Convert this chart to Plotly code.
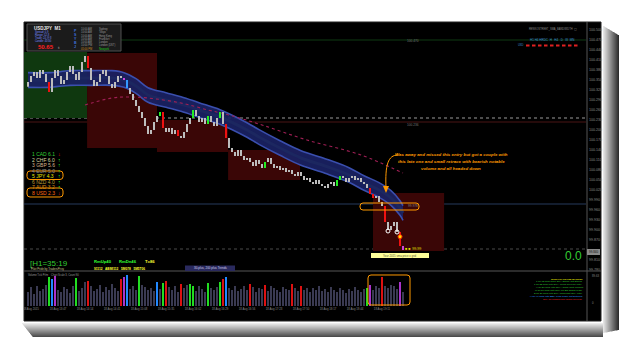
import plotly.graph_objects as go

W, H = 625, 340

# ---------------- data ----------------
first_open = 100.330
close = [
    100.344, 100.362, 100.374, 100.356, 100.380, 100.368, 100.344, 100.314, 100.356, 100.380,
    100.362, 100.338, 100.350, 100.374, 100.392, 100.368, 100.350, 100.374, 100.404, 100.422,
    100.386, 100.350, 100.332, 100.344, 100.368, 100.380, 100.362, 100.338, 100.326, 100.344,
    100.362, 100.356, 100.350, 100.326, 100.308, 100.290, 100.272, 100.254, 100.236, 100.212,
    100.188, 100.200, 100.224, 100.242, 100.254, 100.206, 100.194, 100.206, 100.188, 100.200,
    100.182, 100.176, 100.194, 100.218, 100.236, 100.260, 100.242, 100.224, 100.236, 100.218,
    100.242, 100.224, 100.212, 100.236, 100.254, 100.218, 100.176, 100.146, 100.134, 100.122,
    100.140, 100.122, 100.110, 100.116, 100.104, 100.092, 100.110, 100.098, 100.086, 100.104,
    100.116, 100.098, 100.086, 100.092, 100.080, 100.086, 100.074, 100.080, 100.068, 100.062,
    100.074, 100.062, 100.050, 100.056, 100.044, 100.038, 100.050, 100.038, 100.032, 100.026,
    100.038, 100.044, 100.032, 100.050, 100.062, 100.056, 100.044, 100.056, 100.062, 100.050,
    100.056, 100.044, 100.038, 100.026, 100.008, 99.996, 100.002, 99.984, 99.972, 99.924,
    99.900, 99.912, 99.924, 99.894, 99.852, 99.840,
]
candle_special = {7: 'r', 20: 'r', 32: 'm', 33: 'b', 44: 'g', 45: 'r', 50: 'r', 55: 'g',
                  60: 'g', 64: 'g', 66: 'r', 79: 'g', 103: 'g', 104: 'g', 114: 'r',
                  115: 'r', 119: 'r', 124: 'r', 125: 'm'}

volume = [
    40, 55, 35, 60, 45, 50, 62, 85, 80, 88,
    48, 42, 55, 50, 38, 60, 82, 45, 52, 70,
    75, 58, 44, 50, 62, 40, 55, 48, 66, 52,
    45, 80, 85, 90, 50, 58, 46, 88, 62, 55,
    48, 52, 44, 70, 50, 68, 74, 56, 48, 60,
    42, 66, 54, 62, 64, 58, 45, 60, 50, 42,
    68, 52, 48, 55, 72, 80, 86, 52, 46, 58,
    44, 50, 60, 48, 66, 56, 42, 54, 50, 62,
    44, 58, 52, 46, 40, 56, 50, 48, 64, 52,
    44, 60, 48, 54, 40, 52, 46, 58, 44, 50,
    42, 56, 48, 40, 52, 46, 38, 50, 44, 56,
    48, 42, 50, 54, 62, 48, 58, 52, 84, 60,
    54, 62, 58, 50, 70, 40,
]
volume_special = {7: 'g', 8: 'b', 9: 'm', 16: 'g', 20: 'r', 31: 'r', 32: 'm', 33: 'b',
                  37: 'g', 43: 'b', 45: 'g', 46: 'r', 51: 'r', 54: 'g', 55: 'g', 60: 'g',
                  64: 'g', 65: 'r', 66: 'b', 74: 'r', 79: 'r', 88: 'r', 91: 'r',
                  113: 'g', 114: 'm', 118: 'r', 124: 'm'}

# moving-average ribbon (centre) and slow SMA
ribbon_idx = [0, 7, 14, 21, 28, 32, 36, 40, 46, 51, 57, 64, 73, 77, 84, 91, 99, 107, 112, 117, 121, 124, 125]
ribbon_mid = [100.350, 100.350, 100.356, 100.356, 100.356, 100.350, 100.332, 100.305, 100.290,
              100.278, 100.260, 100.239, 100.200, 100.179, 100.146, 100.116, 100.092, 100.065,
              100.041, 100.020, 99.996, 99.966, 99.951]
sma_idx = [19, 28, 34, 40, 51, 60, 67, 78, 93, 111, 125]
sma_val = [100.275, 100.296, 100.299, 100.296, 100.281, 100.260, 100.245, 100.215, 100.170, 100.125, 100.071]

# session boxes: start idx, end idx, high, low, kind
box_start = [-1.33, 19.7, 43.0, 66.7, 115.0]
box_end = [19.7, 43.0, 66.7, 90.7, 138.7]
box_high = [100.434, 100.431, 100.230, 100.140, 100.011]
box_low = [100.236, 100.146, 100.134, 100.050, 99.837]
box_kind = ['g', 'r', 'r', 'r', 'r']

# horizontal levels
lvl_dotted_white = 100.236
lvl_dark_red = 100.224
lvl_green_top = 100.470
lvl_blue = 99.978
lvl_grey_dotted = 99.843

price_ticks = [99.78, 99.81, 99.87, 99.90, 99.93, 99.96, 99.99, 100.02, 100.05, 100.08,
               100.11, 100.14, 100.17, 100.20, 100.23, 100.26, 100.29, 100.32, 100.35, 100.38,
               100.41, 100.44, 100.47, 100.50]
time_idx = [1, 10, 19, 28, 37, 46, 55, 64, 73, 82, 91, 100, 109, 118]
time_labels = ["18 Aug 2015", "18 Aug 13:47", "18 Aug 14:14", "18 Aug 14:41", "18 Aug 15:08",
               "18 Aug 15:35", "18 Aug 16:02", "18 Aug 16:29", "18 Aug 16:56", "18 Aug 17:23",
               "18 Aug 17:50", "18 Aug 18:17", "18 Aug 18:44", "18 Aug 19:11"]

currency_rows = ["1 CAD 6.1", "2 CHF 6.0", "3 GBP 5.6", "4 EUR 5.0", "5 JPY 4.3", "6 NZD 4.0", "7 AUD 3.2", "8 USD 2.3"]
currency_arrow = ["↓", "↑", "↑", "↑", "↑", "↑", "↑", "↓"]

# ---------------- styling ----------------
FONT = "Liberation Sans"
C_CANDLE = {'w': '#bdbdbd', 'g': '#22ee22', 'r': '#ee1111', 'b': '#3399ff', 'm': '#cc44dd'}
C_VOL = {'w': '#3a3a52', 'g': '#22dd22', 'r': '#dd1111', 'b': '#2288ff', 'm': '#aa33cc'}
C_BOX = {'g': '#0f380f', 'r': '#3a0606'}


def pxx(x):
    return x / W


def pyy(y):
    return 1 - y / H


def ppath(points, closed=False):
    s = "M " + " L ".join(f"{pxx(x):.5f},{pyy(y):.5f}" for x, y in points)
    return s + (" Z" if closed else "")


def rrect(x0, y0, x1, y1, r):
    P = lambda x, y: f"{pxx(x):.5f},{pyy(y):.5f}"
    return (f"M {P(x0 + r, y0)} L {P(x1 - r, y0)} Q {P(x1, y0)} {P(x1, y0 + r)} "
            f"L {P(x1, y1 - r)} Q {P(x1, y1)} {P(x1 - r, y1)} L {P(x0 + r, y1)} "
            f"Q {P(x0, y1)} {P(x0, y1 - r)} L {P(x0, y0 + r)} Q {P(x0, y0)} {P(x0 + r, y0)} Z")


N = len(close)
idx = list(range(N))
opens = [first_open] + close[:-1]
vol_col = [C_VOL[volume_special.get(i, 'w')] for i in idx]

RW = 0.022
rib_up = [m + RW for m in ribbon_mid]
rib_lo = [m - RW for m in ribbon_mid]

fig = go.Figure()

# volume
fig.add_trace(go.Bar(x=idx, y=volume, marker=dict(color=vol_col, line=dict(width=0)), width=0.7,
                     xaxis='x2', yaxis='y2', hoverinfo='skip'))
# ribbon
fig.add_trace(go.Scatter(x=ribbon_idx, y=rib_lo, mode='lines', line=dict(color='#3a4fae', width=1.6, shape='spline'),
                         xaxis='x', yaxis='y', hoverinfo='skip'))
fig.add_trace(go.Scatter(x=ribbon_idx, y=rib_up, mode='lines', line=dict(color='#3a4fae', width=1.6, shape='spline'),
                         fill='tonexty', fillcolor='rgba(26,34,100,0.92)', xaxis='x', yaxis='y', hoverinfo='skip'))
fig.add_trace(go.Scatter(x=ribbon_idx, y=ribbon_mid, mode='lines', line=dict(color='#1c2760', width=3, shape='spline'),
                         xaxis='x', yaxis='y', hoverinfo='skip'))
# slow SMA
fig.add_trace(go.Scatter(x=sma_idx, y=sma_val, mode='lines', line=dict(color='#a01f55', width=1.1, dash='dot', shape='spline'),
                         xaxis='x', yaxis='y', hoverinfo='skip'))
# candle bodies (open -> close), grouped by colour
for kind, col in C_CANDLE.items():
    xs, ys = [], []
    for i in idx:
        if candle_special.get(i, 'w') == kind:
            xs += [i, i, None]
            ys += [opens[i], close[i], None]
    if xs:
        fig.add_trace(go.Scatter(x=xs, y=ys, mode='lines', line=dict(color=col, width=2),
                                 xaxis='x', yaxis='y', hoverinfo='skip', connectgaps=False))
# circles on the last candles
fig.add_trace(go.Scatter(x=[120, 123], y=[99.897, 99.894], mode='markers',
                         marker=dict(size=4, color='rgba(0,0,0,0)', line=dict(color='white', width=1)),
                         xaxis='x', yaxis='y', hoverinfo='skip'))
fig.add_trace(go.Scatter(x=[124], y=[99.880], mode='markers',
                         marker=dict(size=4, color='#ffdd00', line=dict(color='#ff3300', width=1)),
                         xaxis='x', yaxis='y', hoverinfo='skip'))

shapes = []
# shadows
for k in range(16):
    a = 0.10 + 0.72 * k / 15
    shapes.append(dict(type='rect', xref='paper', yref='paper', x0=pxx(603 + k), x1=pxx(604 + k),
                       y0=pyy(333 - k * 0.2), y1=pyy(26 + k * 0.6), fillcolor=f'rgba(0,0,0,{a:.3f})',
                       line=dict(width=0), layer='below'))
for k in range(14):
    a = 0.08 + 0.62 * k / 13
    shapes.append(dict(type='rect', xref='paper', yref='paper', x0=pxx(22 + k * 0.8), x1=pxx(603),
                       y0=pyy(324 + k), y1=pyy(323 + k), fillcolor=f'rgba(0,0,0,{a:.3f})',
                       line=dict(width=0), layer='below'))
# chart black area
shapes.append(dict(type='rect', xref='paper', yref='paper', x0=pxx(24), x1=pxx(601), y0=pyy(321), y1=pyy(22),
                   fillcolor='black', line=dict(color='#222', width=1), layer='below'))
# session boxes
for s, e, hi, lo, k in zip(box_start, box_end, box_high, box_low, box_kind):
    shapes.append(dict(type='rect', xref='x', yref='y', x0=s, x1=e, y0=lo, y1=hi,
                       fillcolor=C_BOX[k], line=dict(width=0), layer='below'))
# levels
for lv, col, dash, wd in [(lvl_green_top, '#0f3a12', 'solid', 1), (lvl_dark_red, '#4a1414', 'solid', 1),
                          (lvl_dotted_white, '#9a9a9a', 'dot', 1), (lvl_blue, '#263a5c', 'solid', 1),
                          (lvl_grey_dotted, '#4a4a4a', 'dot', 1)]:
    shapes.append(dict(type='line', xref='paper', yref='y', x0=pxx(24), x1=pxx(586), y0=lv, y1=lv,
                       line=dict(color=col, width=wd, dash=dash), layer='below'))
# panel separators / axis line
shapes.append(dict(type='line', xref='paper', yref='paper', x0=pxx(24), x1=pxx(601), y0=pyy(271), y1=pyy(271),
                   line=dict(color='#3a3a3a', width=1.5)))
shapes.append(dict(type='line', xref='paper', yref='paper', x0=pxx(587), x1=pxx(587), y0=pyy(321), y1=pyy(22),
                   line=dict(color='#555', width=1)))
# info panel
shapes.append(dict(type='rect', xref='paper', yref='paper', x0=pxx(27), x1=pxx(121), y0=pyy(51), y1=pyy(24),
                   fillcolor='#1b1b1b', line=dict(color='#505050', width=1)))
# orange rounded boxes
for (x0, y0, x1, y1) in [(27, 171, 63, 179.5), (27, 188, 63, 197), (360, 203, 419, 210), (368, 275, 410, 305)]:
    shapes.append(dict(type='path', xref='paper', yref='paper', path=rrect(x0, y0, x1, y1, 3),
                       line=dict(color='#ff9900', width=1)))
# yellow label
shapes.append(dict(type='rect', xref='paper', yref='paper', x0=pxx(371), x1=pxx(429), y0=pyy(258), y1=pyy(253),
                   fillcolor='#ffff99', line=dict(width=0)))
# blue "trends" box
shapes.append(dict(type='rect', xref='paper', yref='paper', x0=pxx(185), x1=pxx(235), y0=pyy(271), y1=pyy(265.5),
                   fillcolor='#2a2a5e', line=dict(width=0)))
# current price marker on axis
shapes.append(dict(type='rect', xref='paper', yref='paper', x0=pxx(587), x1=pxx(600), y0=pyy(255), y1=pyy(249),
                   fillcolor='#8a8a8a', line=dict(width=0)))
# red dashes top right
for j in range(9):
    x0 = 526 + j * 6
    shapes.append(dict(type='line', xref='paper', yref='paper', x0=pxx(x0), x1=pxx(x0 + 3.5), y0=pyy(45.5), y1=pyy(45.5),
                       line=dict(color='#e02020', width=2)))
# orange arrow
shapes.append(dict(type='path', xref='paper', yref='paper',
                   path=f"M {pxx(398):.5f},{pyy(155):.5f} C {pxx(388):.5f},{pyy(155):.5f} {pxx(385):.5f},{pyy(165):.5f} {pxx(386):.5f},{pyy(188):.5f}",
                   line=dict(color='#ff9900', width=1)))
shapes.append(dict(type='path', xref='paper', yref='paper', path=ppath([(383, 186), (389, 186), (386, 193)], True),
                   fillcolor='#ff9900', line=dict(width=0)))

ann = []


def T(x, y, text, color, size, anchor='left', bold=False, italic=False):
    t = text
    if bold:
        t = f"<b>{t}</b>"
    if italic:
        t = f"<i>{t}</i>"
    ann.append(dict(x=pxx(x), y=pyy(y), xref='paper', yref='paper', text=t, showarrow=False,
                    xanchor=anchor, yanchor='middle', font=dict(color=color, size=size, family=FONT)))


# info panel texts
T(32, 28, "USDJPY  M1", '#e8e8e8', 4.5, bold=True)
for j, s in enumerate(["Spread: 0.9", "Range: 52.8", "Trade: 24 @ 8", "Candle: 45:00"]):
    T(33, 32 + j * 2.9, s, '#7a8cff', 2.6)
T(36, 47.5, "50.65", '#ff2020', 6, bold=True)
T(56, 48, "ti", '#bbbbbb', 3)
for j, s in enumerate(["P", "S", "Y", "B", "J"]):
    T(71.5, 31 + j * 3.9, s, '#3f6fd8', 3.6, bold=True)
times = ["10:00 AM", "10:00 AM", "10:00 AM", "10:00 AM", "10:00 AM", "10:00 PM", "05:00 PM"]
names = ["Sydney", "Tokyo", "Hong Kong", "Frankfurt", "London", "London (DST)", "Newyork"]
for j in range(7):
    T(79, 29 + j * 3.3, times[j], '#d08a20' if j == 6 else '#9a9a9a', 2.6)
    T(97, 29 + j * 3.3, names[j], '#22cc22' if j == 6 else '#9a9a9a', 2.6)

# currency strength list
cur_cols = ['#33cc33', '#d8d8a0', '#d9b38c', '#8a8a8a', '#e6e600', '#bb9a30', '#dd8a10', '#ff6a10']
for j, s in enumerate(currency_rows):
    y = 154 + j * 5.5
    T(30, y, s, cur_cols[j], 5)
    T(56.5, y, currency_arrow[j], '#ee2222' if currency_arrow[j] == "↓" else '#22ee22', 5, bold=True)

# annotation text
for j, s in enumerate(["Was away and missed this entry but got a couple with",
                       "this late one and small retrace with bearish notable",
                       "volume and all headed down"]):
    T(451, 155 + j * 6.5, s, '#ff9900', 4.4, anchor='center', bold=True, italic=True)

# chart labels
T(405, 41, "100.470", '#777777', 3.2)
T(405, 125, "100.236", '#777777', 3.2)
T(406, 206.5, "99.978", '#888888', 3.2)
T(403, 249.5, "■ ■  99.99", '#e6e600', 3.6)
T(400, 255.5, "Your 2015 sma price x grid", '#555533', 2.8, anchor='center')
T(593.5, 252, "99.840", '#111111', 3, anchor='center')
T(573, 256, "0.0", '#33cc33', 12, anchor='center')
T(553, 29, "RENKOSTREET_SMA_BANDWIDTH  ▢", '#8a8a8a', 2.6, anchor='center')
T(552, 39.5, "H1 H4 HRDC  H   H4   D   W  MN", '#3d8fcc', 3, anchor='center')
T(521, 45.5, "USD", '#3d8fcc', 2.6, anchor='center')

# bottom texts
T(28, 263.5, "[H1=35:19", '#33cc33', 8)
T(29, 268.5, "Pilot Pride by TradersPrivy", '#c8c890', 2.8)
T(92, 261, "RmUp40", '#33ff33', 4.2, bold=True)
T(117, 261, "RmDn46", '#33ff33', 4.2, bold=True)
T(143, 261, "T=86", '#ffff33', 4.2, bold=True)
T(92, 268.5, "91112   ABMI112   5M078   5M5T06", '#ffff33', 3.2, bold=True)
T(210, 268.2, "30-plus, 200 plus Trends", '#cfcfe8', 3, anchor='center')
T(26, 274.5, "Volume Tick Pr/m    Chart Scale 3, Count 90", '#9a9a9a', 2.6)

leg = [("SIGNALS ON PRE-MARKET", '#e6e600'),
       ("1 for 13 mins since SMA Signal: Not Strong", '#33cc33'),
       ("1 for 22 mins until SMA: Trend Reverse entry", '#33cc33'),
       ("H for 21 mins until SMA: Trade Cont Confirm", '#33cc33'),
       ("M for 30 mins until 20%: 50 Bar Signal ready", '#33cc33'),
       ("E for 27 mins until SMA: Dominant SMA entry", '#33cc33'),
       ("H for 47 mins until BBP: Peak Trade Not Entering", '#3399ff'),
       ("SMA 50 crossed 200 ribbon Reverse", '#ee2222')]
for j, (s, c) in enumerate(leg):
    T(585, 279 + j * 2.9, s, c, 2.4, anchor='right', bold=(j == 0))

T(590, 276, "89.63", '#888888', 2.8)
T(590, 303, "0", '#888888', 2.8)

xr = [(24 - 28) / 3, (586 - 28) / 3]
fig.update_layout(
    width=W, height=H, margin=dict(l=0, r=0, t=0, b=0),
    paper_bgcolor='white', plot_bgcolor='rgba(0,0,0,0)',
    showlegend=False, bargap=0,
    shapes=shapes, annotations=ann,
    xaxis=dict(domain=[pxx(24), pxx(586)], range=xr, visible=False, anchor='y', fixedrange=True),
    yaxis=dict(domain=[pyy(271), pyy(23)], range=[100.59 - 0.003 * 271, 100.59 - 0.003 * 23],
               side='right', anchor='x', tickvals=price_ticks, ticktext=[f"{v:.3f}" for v in price_ticks],
               tickfont=dict(size=3.6, color='#8c8c8c', family=FONT), showgrid=False, zeroline=False,
               ticks='', ticklabelstandoff=2),
    xaxis2=dict(domain=[pxx(24), pxx(586)], range=xr, anchor='y2', matches='x', tickvals=time_idx,
                ticktext=time_labels, tickfont=dict(size=2.8, color='#8c8c8c', family=FONT),
                showgrid=False, zeroline=False, ticks='', ticklabelstandoff=0, tickangle=0),
    yaxis2=dict(domain=[pyy(306), pyy(272)], range=[0, 100], visible=False, anchor='x2'),
)

fig.write_html("out.html")
